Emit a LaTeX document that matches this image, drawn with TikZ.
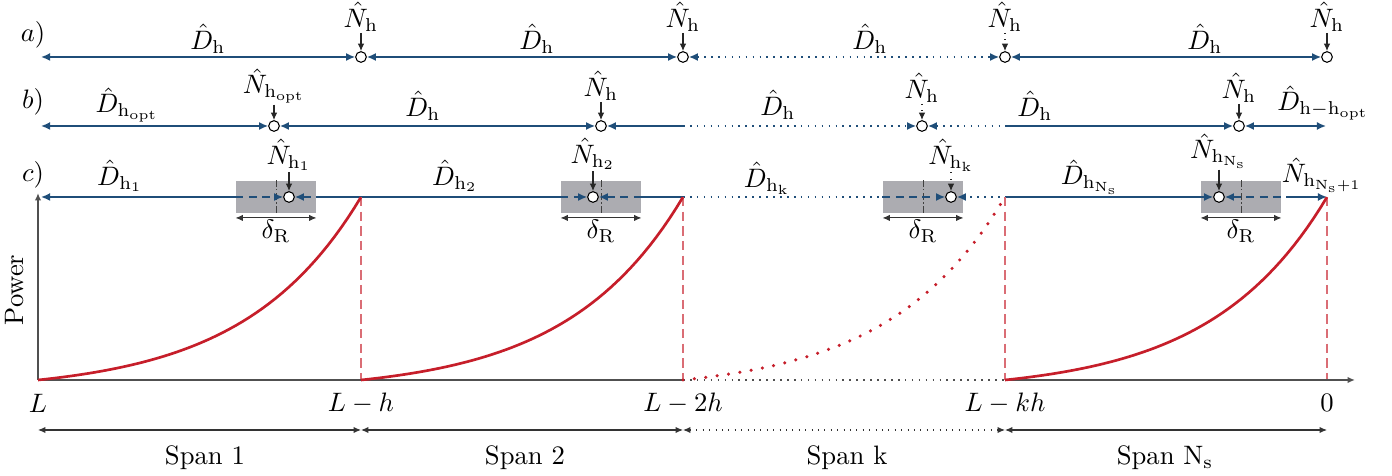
\documentclass[tikz,border=0pt]{standalone}
\usepackage{amsmath}
\usetikzlibrary{arrows.meta, positioning}

\definecolor{lineblue}{RGB}{31,78,121}
\definecolor{curvered}{RGB}{198,30,42}
\definecolor{boxgray}{RGB}{172,172,177}
\definecolor{axisgray}{RGB}{80,80,80}

\begin{document}
\begin{tikzpicture}[
    x=0.375pt, y=-0.375pt,
    btip/.tip={Latex[length=3.4pt, width=3pt]},
    ktip/.tip={Latex[length=2.8pt, width=2.4pt]},
    bline/.style={draw=lineblue, semithick},
    hnode/.style={circle, draw=black, fill=white, thin, inner sep=0pt, minimum size=4pt},
    lab/.style={inner sep=1pt},
    nlab/.style={inner sep=0.3pt},
    drbox/.style={fill=boxgray, inner sep=0pt, minimum width=30pt, minimum height=12.3pt},
    narrow/.style={-ktip, thin, black!85},
    dimline/.style={ktip-ktip, thin, black!80},
    axis/.style={draw=axisgray, semithick},
    pcurve/.style={draw=curvered, line width=1pt},
    vmark/.style={draw=curvered!65, thin, dash pattern=on 3.5pt off 2pt},
    bdash/.style={dash pattern=on 3pt off 2pt},
    midmark/.style={line width=0.3pt, black!75, dash pattern=on 2.5pt off 1pt on 0.4pt off 1pt}
]
\useasboundingbox (0,0) rectangle (1392,476);

% Row a
\node[lab] (lbla) at (33,35) {$a)$};
\coordinate (a0) at (41,57);
\node[hnode] (a1) at (361,57) {};
\node[hnode] (a2) at (683,57) {};
\node[hnode] (a3) at (1005,57) {};
\node[hnode] (a4) at (1327,57) {};
\node[nlab] (Na1) at (361,17) {$\hat{N}_{\mathrm{h}}$};
\node[nlab] (Na2) at (683,17) {$\hat{N}_{\mathrm{h}}$};
\node[nlab] (Na3) at (1005,17) {$\hat{N}_{\mathrm{h}}$};
\node[nlab] (Na4) at (1327,17) {$\hat{N}_{\mathrm{h}}$};
\node[lab] (Da1) at (208,39) {$\hat{D}_{\mathrm{h}}$};
\node[lab] (Da2) at (537,39) {$\hat{D}_{\mathrm{h}}$};
\node[lab] (Da3) at (870,39) {$\hat{D}_{\mathrm{h}}$};
\node[lab] (Da4) at (1205,39) {$\hat{D}_{\mathrm{h}}$};

% Row b
\node[lab] (lblb) at (33,102) {$b)$};
\coordinate (b0) at (41,126);
\node[hnode] (b1) at (274,126) {};
\node[hnode] (b2) at (601,126) {};
\node[hnode] (b3) at (922,126) {};
\node[hnode] (b4) at (1239,126) {};
\coordinate (b5) at (1326,126);
\coordinate (bk2) at (683,126);
\coordinate (bk3) at (1005,126);
\node[nlab] (Nb1) at (274,86) {$\hat{N}_{\mathrm{h}_{\mathrm{opt}}}$};
\node[nlab] (Nb2) at (601,86) {$\hat{N}_{\mathrm{h}}$};
\node[nlab] (Nb3) at (922,88) {$\hat{N}_{\mathrm{h}}$};
\node[nlab] (Nb4) at (1239,88) {$\hat{N}_{\mathrm{h}}$};
\node[lab] (Db1) at (127,105) {$\hat{D}_{\mathrm{h}_{\mathrm{opt}}}$};
\node[lab] (Db2) at (423,106) {$\hat{D}_{\mathrm{h}}$};
\node[lab] (Db3) at (778,105) {$\hat{D}_{\mathrm{h}}$};
\node[lab] (Db4) at (1035,106) {$\hat{D}_{\mathrm{h}}$};
\node[lab] (Db5) at (1323,103) {$\hat{D}_{\mathrm{h}-\mathrm{h}_{\mathrm{opt}}}$};

% Row c
\node[lab] (lblc) at (33,175) {$c)$};
\node[drbox] (box1) at (276,197) {};
\node[drbox] (box2) at (601,197) {};
\node[drbox] (box3) at (923,197) {};
\node[drbox] (box4) at (1241,197) {};
\draw[midmark] (box1.north) -- (box1.south);
\draw[midmark] (box2.north) -- (box2.south);
\draw[midmark] (box3.north) -- (box3.south);
\draw[midmark] (box4.north) -- (box4.south);
\coordinate (c0) at (41,197);
\node[hnode] (c1) at (289,197) {};
\node[hnode] (c2) at (593,197) {};
\node[hnode] (c3) at (951,197) {};
\node[hnode] (c4) at (1219,197) {};
\coordinate (c5) at (1327,197);
\coordinate (ck2) at (683,197);
\coordinate (ck3) at (1005,197);
\coordinate (ck4) at (1290,197);
\node[nlab] (Nc1) at (289,155) {$\hat{N}_{\mathrm{h}_1}$};
\node[nlab] (Nc2) at (593,154) {$\hat{N}_{\mathrm{h}_2}$};
\node[nlab] (Nc3) at (951,155) {$\hat{N}_{\mathrm{h}_{\mathrm{k}}}$};
\node[nlab] (Nc4) at (1219,151) {$\hat{N}_{\mathrm{h}_{\mathrm{N}_\mathrm{s}}}$};
\node[lab] (Nc5) at (1322,175) {$\hat{N}_{\mathrm{h}_{\mathrm{N}_\mathrm{s}+1}}$};
\node[lab] (Dc1) at (120,176) {$\hat{D}_{\mathrm{h}_1}$};
\node[lab] (Dc2) at (455,176) {$\hat{D}_{\mathrm{h}_2}$};
\node[lab] (Dc3) at (767,178) {$\hat{D}_{\mathrm{h}_{\mathrm{k}}}$};
\node[lab] (Dc4) at (1090,177) {$\hat{D}_{\mathrm{h}_{\mathrm{N}_\mathrm{s}}}$};
\node[lab, below=1pt of box1] (dR1) {$\delta_{\mathrm{R}}$};
\node[lab, below=1pt of box2] (dR2) {$\delta_{\mathrm{R}}$};
\node[lab, below=1pt of box3] (dR3) {$\delta_{\mathrm{R}}$};
\node[lab, below=1pt of box4] (dR4) {$\delta_{\mathrm{R}}$};

% Power axes
\coordinate (xL) at (38,380);
\coordinate (x1) at (361,380);
\coordinate (x2) at (683,380);
\coordinate (xk) at (1005,380);
\coordinate (x0) at (1327,380);
\coordinate (xend) at (1355,380);
\coordinate (ytop) at (38,193);
\node[rotate=90] (ylab) at (15,290) {Power};
\node (tL) at (38,403) {$L$};
\node (t1) at (361,403) {$L-h$};
\node (t2) at (683,403) {$L-2h$};
\node (tk) at (1005,403) {$L-kh$};
\node (t0) at (1327,403) {$0$};

% Spans
\coordinate (s0) at (38,430);
\coordinate (s1) at (361,430);
\coordinate (s2) at (683,430);
\coordinate (s3) at (1005,430);
\coordinate (s4) at (1327,430);
\node (span1) at (205,458) {Span 1};
\node (span2) at (525,458) {Span 2};
\node (spank) at (847,458) {Span k};
\node (spanN) at (1165,458) {Span N$_\mathrm{s}$};

% Arrows row a
\draw[bline, btip-btip] (a0) -- (a1);
\draw[bline, btip-btip] (a1) -- (a2);
\draw[bline, dotted, btip-btip] (a2) -- (a3);
\draw[bline, btip-btip] (a3) -- (a4);
\draw[narrow] (Na1) -- (a1);
\draw[narrow] (Na2) -- (a2);
\draw[narrow, dotted] (Na3) -- (a3);
\draw[narrow] (Na4) -- (a4);

% Arrows row b
\draw[bline, btip-btip] (b0) -- (b1);
\draw[bline, btip-btip] (b1) -- (b2);
\draw[bline, btip-] (b2) -- (bk2);
\draw[bline, dotted, -btip] (bk2) -- (b3);
\draw[bline, dotted, btip-] (b3) -- (bk3);
\draw[bline, -btip] (bk3) -- (b4);
\draw[bline, btip-btip] (b4) -- (b5);
\draw[narrow] (Nb1) -- (b1);
\draw[narrow] (Nb2) -- (b2);
\draw[narrow, dotted] (Nb3) -- (b3);
\draw[narrow] (Nb4) -- (b4);

% Arrows row c
\draw[bline, btip-] (c0) -- (box1.west);
\draw[bline, bdash, -btip] (box1.west) -- (c1);
\draw[bline, bdash, btip-] (c1) -- (box1.east);
\draw[bline] (box1.east) -- (box2.west);
\draw[bline, bdash, -btip] (box2.west) -- (c2);
\draw[bline, bdash, btip-] (c2) -- (box2.east);
\draw[bline] (box2.east) -- (ck2);
\draw[bline, dotted] (ck2) -- (box3.west);
\draw[bline, bdash, -btip] (box3.west) -- (c3);
\draw[bline, bdash, btip-] (c3) -- (box3.east);
\draw[bline, dotted] (box3.east) -- (ck3);
\draw[bline] (ck3) -- (box4.west);
\draw[bline, bdash, -btip] (box4.west) -- (c4);
\draw[bline, bdash, btip-] (c4) -- (ck4);
\draw[bline, -btip] (ck4) -- (c5);
\draw[narrow] (Nc1) -- (c1);
\draw[narrow] (Nc2) -- (c2);
\draw[narrow, dotted] (Nc3) -- (c3);
\draw[narrow] (Nc4) -- (c4);
\draw[dimline] ([yshift=-1.5pt]box1.south west) -- ([yshift=-1.5pt]box1.south east);
\draw[dimline] ([yshift=-1.5pt]box2.south west) -- ([yshift=-1.5pt]box2.south east);
\draw[dimline] ([yshift=-1.5pt]box3.south west) -- ([yshift=-1.5pt]box3.south east);
\draw[dimline] ([yshift=-1.5pt]box4.south west) -- ([yshift=-1.5pt]box4.south east);

% Axes and power curves
\draw[vmark] (361,197) -- (x1);
\draw[vmark] (683,197) -- (x2);
\draw[vmark] (ck3) -- (xk);
\draw[vmark] (c5) -- (x0);
\draw[axis, -ktip] (xL) -- (ytop);
\draw[axis] (xL) -- (x2);
\draw[axis, dotted] (x2) -- (xk);
\draw[axis, -ktip] (xk) -- (xend);
\draw[pcurve, domain=0:1, samples=50] plot ({38+323*\x}, {380-183*(exp(2.77*\x)-1)/14.96});
\draw[pcurve, domain=0:1, samples=50] plot ({361+322*\x}, {380-183*(exp(2.77*\x)-1)/14.96});
\draw[pcurve, line width=1.3pt, line cap=round, dash pattern=on 0pt off 4.3pt, domain=0:1, samples=50] plot ({683+322*\x}, {380-183*(exp(2.77*\x)-1)/14.96});
\draw[pcurve, domain=0:1, samples=50] plot ({1005+322*\x}, {380-183*(exp(2.77*\x)-1)/14.96});

% Span arrows
\draw[dimline] (s0) -- (s1);
\draw[dimline] (s1) -- (s2);
\draw[dimline, dotted] (s2) -- (s3);
\draw[dimline] (s3) -- (s4);

\end{tikzpicture}
\end{document}
